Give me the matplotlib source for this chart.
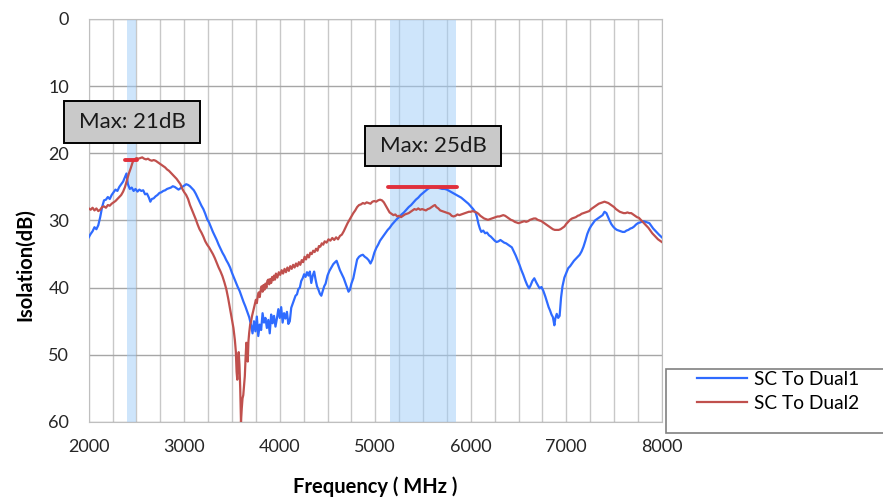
import matplotlib
matplotlib.use("Agg")
import matplotlib.pyplot as plt
from matplotlib.patches import Rectangle
from matplotlib.lines import Line2D
from matplotlib.ticker import MultipleLocator

plt.rcParams["font.family"] = ["Lato", "DejaVu Sans"]

# SC To Dual1 (MHz, dB)
freq1 = [2000, 2020, 2040, 2060, 2080, 2100, 2120, 2140, 2160, 2180, 2200, 2220, 2240, 2260, 2280,
         2300, 2320, 2340, 2360, 2380, 2395, 2410, 2430, 2450, 2470, 2490, 2510, 2530, 2550, 2570,
         2590, 2610, 2630, 2645, 2660, 2680, 2700, 2720, 2740, 2760, 2780, 2800, 2820, 2840, 2860,
         2880, 2900, 2920, 2940, 2960, 2980, 3000, 3020, 3040, 3060, 3080, 3100, 3120, 3140, 3160,
         3180, 3200, 3220, 3240, 3260, 3280, 3300, 3320, 3340, 3360, 3380, 3400, 3420, 3440, 3460,
         3480, 3500, 3520, 3540, 3560, 3580, 3600, 3620, 3640, 3660, 3680, 3700, 3715, 3730, 3745,
         3760, 3775, 3790, 3805, 3820, 3835, 3850, 3865, 3880, 3895, 3910, 3925, 3940, 3955, 3970,
         3985, 4000, 4015, 4030, 4045, 4060, 4075, 4090, 4105, 4120, 4135, 4150, 4165, 4180, 4195,
         4210, 4225, 4240, 4255, 4270, 4285, 4300, 4315, 4330, 4345, 4360, 4375, 4390, 4405, 4420,
         4435, 4450, 4465, 4480, 4500, 4520, 4540, 4560, 4580, 4595, 4610, 4630, 4650, 4670, 4690,
         4705, 4720, 4735, 4750, 4770, 4790, 4810, 4830, 4850, 4870, 4890, 4910, 4930, 4950, 4970,
         4990, 5010, 5030, 5050, 5070, 5090, 5110, 5130, 5150, 5175, 5200, 5225, 5250, 5275, 5300,
         5325, 5350, 5375, 5400, 5425, 5450, 5475, 5500, 5525, 5550, 5575, 5600, 5625, 5650, 5675,
         5700, 5725, 5750, 5775, 5800, 5825, 5850, 5875, 5900, 5925, 5950, 5975, 6000, 6025, 6050,
         6065, 6080, 6095, 6110, 6130, 6150, 6170, 6190, 6210, 6230, 6250, 6270, 6290, 6310, 6330,
         6350, 6370, 6390, 6410, 6430, 6450, 6470, 6490, 6510, 6530, 6550, 6570, 6590, 6610, 6625,
         6645, 6665, 6685, 6700, 6720, 6740, 6760, 6780, 6800, 6815, 6830, 6845, 6860, 6875, 6885,
         6900, 6915, 6930, 6945, 6960, 6980, 7000, 7020, 7040, 7060, 7080, 7100, 7120, 7140, 7160,
         7180, 7200, 7220, 7240, 7260, 7280, 7300, 7320, 7340, 7360, 7380, 7400, 7420, 7435, 7450,
         7470, 7490, 7510, 7530, 7550, 7570, 7590, 7610, 7630, 7650, 7670, 7690, 7710, 7730, 7750,
         7770, 7790, 7810, 7830, 7850, 7870, 7890, 7910, 7930, 7950, 7970, 8000]
iso1 = [32.5, 32.0, 31.6, 31.0, 31.3, 30.7, 29.5, 28.0, 27.0, 26.9, 26.5, 26.8, 26.2, 25.8, 25.4,
        25.6, 25.0, 24.6, 24.2, 23.5, 23.0, 24.6, 25.3, 25.1, 25.6, 25.3, 25.7, 25.4, 25.6, 25.5,
        26.1, 26.0, 26.6, 27.2, 26.8, 26.7, 26.4, 26.2, 25.9, 25.8, 25.6, 25.5, 25.3, 25.2, 25.1,
        24.9, 25.0, 25.2, 25.4, 25.2, 25.0, 24.8, 24.6, 24.7, 24.9, 25.2, 25.5, 26.0, 26.6, 27.2,
        27.8, 28.3, 29.0, 29.8, 30.3, 31.0, 31.7, 32.3, 32.9, 33.6, 34.2, 34.8, 35.3, 35.9, 36.4,
        37.0, 37.8, 38.5, 39.2, 39.9, 40.5, 41.3, 42.1, 42.8, 43.6, 44.4, 45.6, 46.8, 45.0, 46.5,
        44.3, 47.2, 45.5, 46.3, 43.8, 45.2, 44.5, 46.0, 44.8, 46.8, 44.0, 45.3, 44.2, 45.8, 44.6,
        43.2, 44.5, 42.9, 45.2, 43.8, 44.6, 43.6, 45.4, 45.0, 43.0, 42.4, 41.8, 41.2, 41.0, 40.2,
        40.0, 39.0, 38.6, 38.0, 38.4, 37.7, 38.2, 37.6, 39.3, 38.2, 37.6, 38.8, 39.8, 40.3, 40.9,
        41.2, 40.5, 39.8, 39.4, 38.2, 37.5, 37.0, 36.5, 36.2, 36.0, 36.6, 37.4, 38.0, 38.6, 39.4,
        40.0, 40.6, 40.3, 39.4, 38.6, 37.2, 35.8, 35.4, 35.2, 35.1, 35.4, 35.6, 35.9, 36.4, 35.8,
        34.8, 34.1, 33.6, 33.0, 32.6, 32.2, 31.8, 31.4, 31.1, 30.6, 30.2, 29.8, 29.5, 29.1, 28.8,
        28.4, 28.0, 27.7, 27.3, 26.9, 26.6, 26.2, 25.9, 25.6, 25.3, 25.1, 25.0, 25.1, 25.1, 25.2,
        25.3, 25.3, 25.4, 25.6, 25.8, 26.0, 26.2, 26.4, 26.6, 26.9, 27.2, 27.5, 27.9, 28.3, 28.8,
        29.5, 30.5, 31.2, 31.7, 31.5, 31.9, 31.8, 32.2, 32.4, 32.7, 33.0, 33.2, 33.1, 32.9, 33.1,
        33.3, 33.4, 33.6, 33.8, 34.0, 34.6, 35.2, 35.9, 36.6, 37.4, 38.1, 38.9, 39.6, 40.1, 39.7,
        39.0, 38.6, 39.2, 39.6, 40.1, 39.9, 40.5, 41.3, 42.2, 42.9, 43.4, 44.0, 44.4, 45.6, 44.6,
        43.9, 44.5, 44.2, 41.5, 39.8, 38.5, 37.8, 37.1, 36.8, 36.4, 36.0, 35.7, 35.4, 35.1, 34.6,
        33.9, 33.0, 32.0, 31.3, 30.8, 30.4, 30.0, 29.8, 29.6, 29.4, 29.2, 28.7, 28.9, 29.4, 29.9,
        30.5, 30.9, 31.2, 31.4, 31.5, 31.6, 31.7, 31.7, 31.5, 31.4, 31.2, 31.1, 30.9, 30.6, 30.4,
        30.3, 30.2, 30.1, 30.2, 30.3, 30.4, 30.8, 31.2, 31.5, 31.8, 32.1, 32.5]

# SC To Dual2 (MHz, dB)
freq2 = [2000, 2020, 2040, 2060, 2080, 2100, 2120, 2140, 2160, 2180, 2200, 2220, 2240, 2260, 2280,
         2300, 2320, 2340, 2360, 2380, 2400, 2420, 2440, 2460, 2480, 2500, 2520, 2540, 2560, 2580,
         2600, 2620, 2640, 2660, 2680, 2700, 2720, 2740, 2760, 2780, 2800, 2820, 2840, 2860, 2880,
         2900, 2920, 2940, 2960, 2980, 3000, 3020, 3040, 3060, 3080, 3100, 3120, 3140, 3160, 3180,
         3200, 3220, 3240, 3260, 3280, 3300, 3320, 3340, 3360, 3380, 3400, 3420, 3440, 3460, 3480,
         3500, 3515, 3530, 3540, 3548, 3555, 3563, 3570, 3578, 3586, 3594, 3602, 3610, 3618, 3626,
         3634, 3642, 3650, 3658, 3665, 3672, 3680, 3690, 3700, 3710, 3720, 3730, 3740, 3750, 3760,
         3770, 3780, 3790, 3800, 3810, 3820, 3830, 3840, 3850, 3860, 3870, 3880, 3890, 3900, 3910,
         3920, 3930, 3940, 3950, 3960, 3975, 3990, 4005, 4020, 4035, 4050, 4065, 4080, 4095, 4110,
         4125, 4140, 4155, 4170, 4185, 4200, 4215, 4230, 4245, 4260, 4275, 4290, 4305, 4320, 4335,
         4350, 4365, 4380, 4395, 4410, 4425, 4440, 4455, 4470, 4490, 4510, 4530, 4550, 4570, 4590,
         4610, 4630, 4650, 4670, 4690, 4710, 4730, 4750, 4770, 4790, 4810, 4830, 4850, 4870, 4890,
         4910, 4930, 4950, 4970, 4990, 5010, 5030, 5050, 5070, 5090, 5110, 5130, 5150, 5170, 5190,
         5210, 5230, 5250, 5270, 5290, 5310, 5330, 5350, 5370, 5390, 5410, 5430, 5450, 5470, 5490,
         5510, 5530, 5550, 5570, 5590, 5610, 5625, 5640, 5660, 5680, 5700, 5720, 5740, 5760, 5780,
         5800, 5820, 5840, 5860, 5880, 5900, 5920, 5940, 5960, 5980, 6000, 6020, 6040, 6060, 6080,
         6100, 6120, 6140, 6160, 6180, 6200, 6220, 6240, 6260, 6280, 6300, 6320, 6340, 6360, 6380,
         6400, 6420, 6440, 6460, 6480, 6500, 6520, 6540, 6560, 6580, 6600, 6620, 6640, 6660, 6680,
         6700, 6720, 6740, 6760, 6780, 6800, 6820, 6840, 6860, 6880, 6900, 6920, 6940, 6960, 6980,
         7000, 7020, 7040, 7060, 7080, 7100, 7120, 7140, 7160, 7180, 7200, 7220, 7240, 7260, 7280,
         7300, 7320, 7340, 7360, 7380, 7400, 7420, 7440, 7460, 7480, 7500, 7520, 7540, 7560, 7580,
         7600, 7620, 7640, 7660, 7680, 7700, 7720, 7740, 7760, 7780, 7800, 7820, 7840, 7860, 7880,
         7900, 7920, 7940, 7960, 7980, 8000]
iso2 = [28.2, 28.4, 28.1, 28.5, 28.2, 28.6, 28.4, 28.0, 27.9, 28.1, 27.7, 27.8, 27.5, 27.3, 27.1,
        26.8, 26.5, 26.2, 25.7, 25.0, 24.0, 23.0, 22.2, 21.3, 20.9, 20.7, 20.8, 20.7, 20.6, 20.8,
        20.9, 20.8, 21.0, 21.1, 21.0, 21.1, 21.3, 21.5, 21.7, 21.9, 22.1, 22.4, 22.6, 22.9, 23.2,
        23.5, 23.8, 24.2, 24.6, 25.3, 25.8, 26.2, 26.8, 27.7, 28.4, 29.1, 29.8, 30.6, 31.3, 31.8,
        32.4, 33.1, 33.6, 34.0, 34.5, 35.0, 35.6, 36.3, 37.0, 37.6, 38.3, 39.2, 40.2, 41.6, 43.2,
        44.8, 46.0, 47.8, 49.5, 52.5, 53.7, 51.0, 49.6, 51.5, 55.0, 60.0, 58.0, 56.5, 56.0, 54.5,
        53.2, 50.5, 48.2, 49.5, 51.0, 48.0, 46.7, 45.5, 45.0, 44.2, 43.6, 43.0, 42.4, 41.8, 42.3,
        41.2, 40.7, 41.4, 40.4, 39.8, 40.6, 39.6, 40.3, 39.4, 40.0, 39.0, 38.8, 39.5, 38.7, 39.3,
        38.4, 38.9, 38.2, 38.8, 37.9, 38.5, 37.7, 38.1, 37.4, 37.9, 37.2, 37.7, 37.0, 37.5, 36.8,
        37.2, 36.6, 37.0, 36.4, 36.8, 36.2, 36.6, 35.9, 36.2, 35.4, 35.8, 35.1, 35.5, 34.8, 35.0,
        34.5, 34.7, 34.2, 34.5, 33.8, 33.9, 33.4, 33.6, 33.1, 33.3, 32.8, 33.0, 32.6, 32.9, 32.5,
        32.8, 32.3, 32.1, 31.6, 31.0, 30.4, 29.9, 29.4, 28.9, 28.5, 28.0, 27.7, 27.6, 27.4, 27.5,
        27.3, 27.4, 27.5, 27.2, 27.1, 27.2, 27.0, 26.9, 27.0, 27.3, 27.8, 28.3, 28.8, 29.0, 29.2,
        29.1, 29.4, 29.3, 29.5, 29.3, 29.1, 29.0, 28.9, 28.7, 28.5, 28.3, 28.4, 28.2, 28.4, 28.3,
        28.4, 28.5, 28.3, 28.2, 28.0, 27.8, 27.7, 28.0, 28.2, 28.5, 28.6, 28.7, 28.8, 28.9, 29.0,
        29.3, 29.4, 29.3, 29.1, 29.2, 29.1, 29.0, 28.9, 28.8, 28.7, 28.7, 28.6, 28.7, 28.8, 29.0,
        29.3, 29.5, 29.7, 29.8, 29.9, 29.8, 29.7, 29.6, 29.5, 29.4, 29.4, 29.3, 29.2, 29.3, 29.5,
        29.7, 29.9, 30.0, 30.2, 30.3, 30.4, 30.3, 30.2, 30.1, 30.2, 30.1, 29.9, 29.8, 29.7, 29.7,
        29.9, 30.0, 30.1, 30.3, 30.5, 30.7, 30.9, 31.1, 31.3, 31.4, 31.4, 31.4, 31.3, 31.1, 30.9,
        30.5, 30.2, 29.9, 29.7, 29.6, 29.5, 29.3, 29.2, 29.0, 28.9, 28.8, 28.7, 28.6, 28.3, 28.1,
        27.9, 27.7, 27.5, 27.4, 27.3, 27.2, 27.3, 27.4, 27.6, 27.8, 28.0, 28.3, 28.5, 28.7, 28.8,
        28.9, 28.9, 28.8, 28.9, 28.9, 29.1, 29.3, 29.5, 29.6, 29.9, 30.2, 30.5, 30.8, 31.1, 31.5,
        31.9, 32.2, 32.5, 32.8, 33.0, 33.2]

# highlighted bands (MHz) and peak markers (start, end, dB)
bands = [(2400, 2500), (5150, 5850)]
peaks = [(2380, 2510, 21), (5130, 5855, 25)]
peak_labels = ["Max: 21dB", "Max: 25dB"]
# label box: center freq, center dB, width (MHz), height (dB)
label_boxes = [(2455, 15.3, 1420, 6.2), (5605, 18.9, 1430, 6.0)]

blue = "#2f6bff"
red = "#c0504d"

fig = plt.figure(figsize=(8.83, 5.0), dpi=100)
ax = fig.add_axes([0.1005, 0.156, 0.649, 0.806])

for lo, hi in bands:
    ax.axvspan(lo, hi, color="#9fcdf9", alpha=0.5, lw=0, zorder=1)

ax.plot(freq1, iso1, color=blue, lw=1.6, zorder=3)
ax.plot(freq2, iso2, color=red, lw=1.6, zorder=3)

for x0, x1, v in peaks:
    ax.plot([x0, x1], [v, v], color="#e0303c", lw=2.8, solid_capstyle="round", zorder=4)

for (cx, cy, w, h), txt in zip(label_boxes, peak_labels):
    ax.add_patch(Rectangle((cx - w / 2, cy - h / 2), w, h, facecolor="#c9c9c9",
                           edgecolor="black", lw=1.4, clip_on=False, zorder=5))
    ax.text(cx, cy, txt, ha="center", va="center", fontsize=16, color="#1a1a1a", zorder=6)

ax.set_xlim(2000, 8000)
ax.set_ylim(60, 0)
ax.xaxis.set_major_locator(MultipleLocator(1000))
ax.xaxis.set_minor_locator(MultipleLocator(250))
ax.yaxis.set_major_locator(MultipleLocator(10))
ax.grid(which="major", axis="y", color="#a6a6a6", lw=1.0, zorder=0)
ax.grid(which="both", axis="x", color="#c8c8c8", lw=1.0, zorder=0)
ax.set_axisbelow(True)
ax.tick_params(which="both", length=0, labelsize=13, colors="#262626")
ax.tick_params(axis="y", pad=14)
ax.tick_params(axis="x", pad=12)
for s in ax.spines.values():
    s.set_color("#bfbfbf")

ax.set_xlabel("Frequency ( MHz )", fontsize=14.5, fontweight="bold", labelpad=16)
ax.set_ylabel("Isolation(dB)", fontsize=14.5, fontweight="bold")
ax.yaxis.set_label_coords(-0.094, 0.39)

# legend box sits outside the plot, running off the right edge
fig.patches.append(Rectangle((666 / 883, 1 - 433 / 500), 0.3, 64 / 500,
                             transform=fig.transFigure, facecolor="white",
                             edgecolor="#808080", lw=1.2))
handles = [Line2D([], [], color=blue, lw=1.6), Line2D([], [], color=red, lw=1.6)]
fig.legend(handles, ["SC To Dual1", "SC To Dual2"], loc="upper left",
           bbox_to_anchor=(697 / 883, 1 - 371 / 500), frameon=False,
           fontsize=13.8, handlelength=2.6, handletextpad=0.35, labelspacing=0.35,
           borderpad=0, borderaxespad=0)

fig.savefig("out.png", dpi=100)
